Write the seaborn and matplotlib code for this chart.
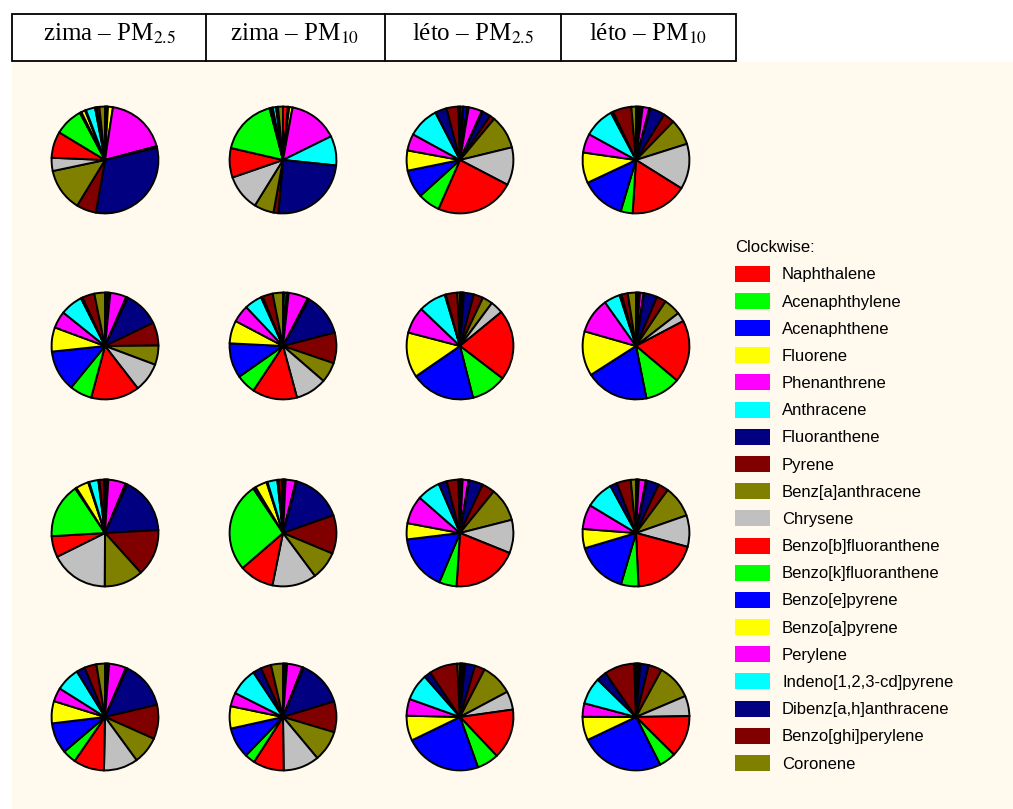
import matplotlib
matplotlib.use("Agg")
import matplotlib.pyplot as plt
import seaborn as sns
from matplotlib.patches import Patch, Rectangle
from matplotlib.lines import Line2D

compounds = ['Naphthalene', 'Acenaphthylene', 'Acenaphthene', 'Fluorene',
             'Phenanthrene', 'Anthracene', 'Fluoranthene', 'Pyrene',
             'Benz[a]anthracene', 'Chrysene', 'Benzo[b]fluoranthene',
             'Benzo[k]fluoranthene', 'Benzo[e]pyrene', 'Benzo[a]pyrene',
             'Perylene', 'Indeno[1,2,3-cd]pyrene', 'Dibenz[a,h]anthracene',
             'Benzo[ghi]perylene', 'Coronene']
headers = ['zima – PM$_{2.5}$', 'zima – PM$_{10}$', 'léto – PM$_{2.5}$', 'léto – PM$_{10}$']
base_colors = ['#FF0000', '#00FF00', '#0000FF', '#FFFF00', '#FF00FF',
               '#00FFFF', '#000080', '#800000', '#808000', '#C0C0C0']

# percentage shares, one list per pie (row r, column)
zima_pm25_r1 = [0.3, 0.3, 0.3, 1.5, 18.5, 0.5, 31.5, 6, 13, 4, 8, 8.6, 0.5, 1.2, 0.3, 2.8, 0.5, 0.8, 1.7]
zima_pm10_r1 = [1.5, 0.2, 0.2, 1, 15, 9, 25, 1.5, 6, 11, 9, 17.5, 0.5, 0.3, 0.2, 1, 0.3, 0.3, 1.5]
leto_pm25_r1 = [0.8, 0.3, 1, 0.5, 4, 0.3, 2.5, 1.5, 10, 11.3, 23.6, 6.6, 8.4, 6, 5, 9.3, 3.5, 3.5, 0.5]
leto_pm10_r1 = [0.5, 0.5, 0.5, 0.5, 2, 0.3, 4.5, 3.4, 7.8, 13.7, 17, 3.6, 13.3, 9.2, 5.7, 9.2, 0.7, 5.6, 1.4]

zima_pm25_r2 = [0.4, 0.4, 0.4, 0.4, 4.9, 0.5, 10.8, 7, 5.8, 8.8, 14.6, 6.7, 12.4, 7.3, 5.1, 6.8, 0.5, 3.7, 3.2]
zima_pm10_r2 = [0.3, 0.8, 0.3, 0.3, 5.9, 0.5, 12.8, 9.2, 6.1, 9.4, 13.5, 5.9, 10.5, 6.9, 5.2, 5.3, 0.5, 3.1, 3.1]
leto_pm25_r2 = [0.2, 0.2, 0.2, 0.2, 0.2, 0.2, 3, 2.9, 3.1, 3.9, 21.4, 10.7, 19.4, 13.7, 8.1, 8.3, 0.3, 3.5, 0.8]
leto_pm10_r2 = [0.3, 0.3, 0.3, 0.3, 1.1, 0.2, 4, 2.9, 5.2, 2.8, 19, 10.8, 19.2, 13.6, 10.8, 4.9, 0.6, 1.9, 2.5]

zima_pm25_r3 = [0.3, 0.3, 0.2, 0.2, 5.3, 0.5, 17.4, 14.2, 11.8, 17.6, 6.4, 16.6, 0.4, 3.9, 0.3, 2.8, 0.3, 1.4, 0.3]
zima_pm10_r3 = [0.2, 0.2, 0.2, 0.2, 3.1, 0.3, 15.5, 11.7, 8.6, 13.4, 10.5, 27.1, 0.8, 3.6, 0.3, 3, 0.3, 1.1, 0.3]
leto_pm25_r3 = [0.2, 0.2, 0.2, 0.2, 1.8, 0.2, 4.2, 3.9, 10.2, 10.1, 20, 5.3, 16.8, 4.9, 8.5, 7.1, 2.5, 3.5, 0.5]
leto_pm10_r3 = [0.2, 0.2, 0.2, 0.2, 2, 0.3, 3.5, 3, 9, 9, 19, 5, 15, 5.5, 7, 8, 2, 4, 1.5]

zima_pm25_r4 = [0.3, 0.3, 0.3, 0.3, 5, 0.4, 14, 10, 8, 10, 9, 4, 9, 6.5, 4, 7, 2.5, 3.5, 2.5]
zima_pm10_r4 = [0.3, 0.3, 0.3, 0.3, 4.5, 0.4, 13.5, 9, 9, 10.5, 9, 3, 9, 6.5, 4, 8, 2.5, 3, 3.5]
leto_pm25_r4 = [0.2, 0.2, 0.2, 0.2, 0.5, 0.2, 3, 3, 9.5, 5.5, 15, 6.5, 23, 7.5, 5, 8, 2, 8.5, 0.8]
leto_pm10_r4 = [0.2, 0.2, 0.2, 0.2, 0.3, 0.2, 2.5, 4, 10.5, 6, 12.5, 5, 25, 7, 4, 8, 3, 9, 0.5]

grid = [
    [zima_pm25_r1, zima_pm10_r1, leto_pm25_r1, leto_pm10_r1],
    [zima_pm25_r2, zima_pm10_r2, leto_pm25_r2, leto_pm10_r2],
    [zima_pm25_r3, zima_pm10_r3, leto_pm25_r3, leto_pm10_r3],
    [zima_pm25_r4, zima_pm10_r4, leto_pm25_r4, leto_pm10_r4],
]

sns.set_theme(style="white")
plt.rcParams['font.family'] = ['Liberation Sans', 'DejaVu Sans']
plt.rcParams['mathtext.fontset'] = 'stix'
plt.rcParams['text.color'] = 'black'

palette = sns.color_palette(base_colors)
colors = [palette[i % len(palette)] for i in range(len(compounds))]

W, H = 1013, 809
fig = plt.figure(figsize=(W / 100, H / 100), dpi=100)
fig.patch.set_facecolor('white')

# cream panel behind pies and legend
fig.patches.append(Rectangle((12 / W, 0), 1 - 12 / W, 1 - 62 / H, transform=fig.transFigure,
                             facecolor='#FFF9EE', edgecolor='none', zorder=-5))

# header table
fig.patches.append(Rectangle((12 / W, 1 - 61 / H), (736 - 12) / W, 47 / H, transform=fig.transFigure,
                             fill=False, edgecolor='black', linewidth=1.3, zorder=2))
for xd in [206, 385, 561]:
    fig.lines.append(Line2D([xd / W, xd / W], [1 - 61 / H, 1 - 14 / H], transform=fig.transFigure,
                            color='black', linewidth=1.3))
col_mid = [109, 295, 473, 648]
for x, h in zip(col_mid, headers):
    fig.text(x / W, 1 - 34 / H, h, ha='center', va='center', fontsize=18, color='black',
             family=['Liberation Serif', 'DejaVu Serif'])

col_x = [105, 283, 460, 636]
row_y = [160, 346, 533, 717]
r = 55
for i, row in enumerate(grid):
    for j, vals in enumerate(row):
        cx, cy = col_x[j], row_y[i]
        ax = fig.add_axes([(cx - r) / W, 1 - (cy + r) / H, 2 * r / W, 2 * r / H])
        ax.pie(vals, colors=colors, startangle=90, counterclock=False,
               wedgeprops=dict(edgecolor='black', linewidth=1.4))
        ax.set_xlim(-1.03, 1.03)
        ax.set_ylim(-1.03, 1.03)
        ax.set_facecolor('none')
        ax.axis('off')

handles = [Patch(facecolor=c, edgecolor='none') for c in colors]
leg = fig.legend(handles, compounds, title='Clockwise:', loc='upper left',
                 bbox_to_anchor=(722 / W, 1 - 227 / H), frameon=False, fontsize=12,
                 title_fontsize=12, handlelength=2.1, handleheight=1.1, handletextpad=0.7,
                 labelspacing=0.63, alignment='left', borderpad=0.3)
for t in leg.get_texts():
    t.set_color('black')
leg.get_title().set_color('black')

fig.savefig('out.png', dpi=100)
